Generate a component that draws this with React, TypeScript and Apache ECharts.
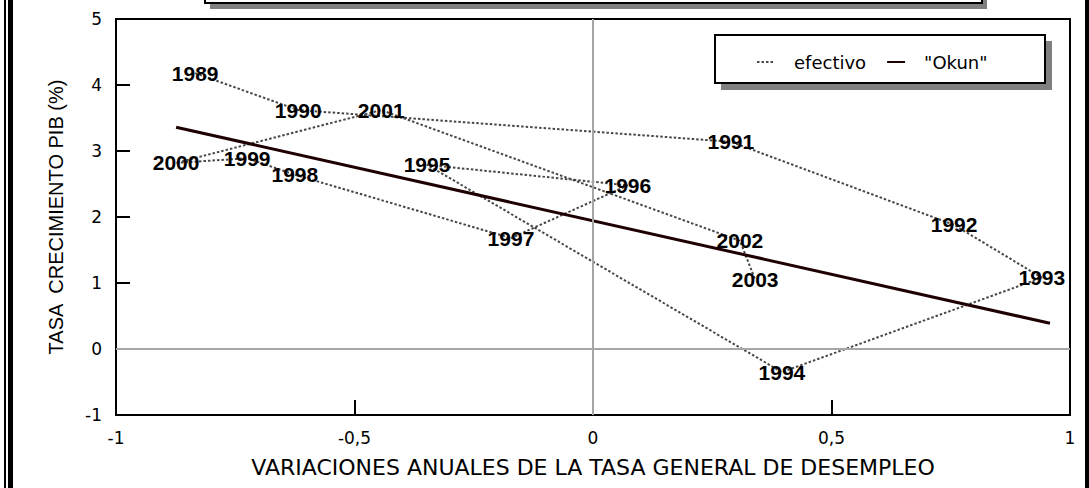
import React, { useEffect, useRef } from "react";
import * as echarts from "echarts";

const years = ["1989", "1990", "1991", "1992", "1993", "1994", "1995", "1996", "1997", "1998", "1999", "2000", "2001", "2002", "2003"];
const unemploymentChange = [-0.834, -0.618, 0.289, 0.757, 0.941, 0.396, -0.348, 0.073, -0.172, -0.625, -0.725, -0.874, -0.444, 0.308, 0.34];
const gdpGrowth = [4.18, 3.62, 3.14, 1.88, 1.08, -0.35, 2.79, 2.48, 1.68, 2.64, 2.89, 2.82, 3.62, 1.64, 1.05];
const okunX = [-0.874, 0.958];
const okunY = [3.36, 0.39];
const xTicks = { min: -1, max: 1, interval: 0.5 };
const yTicks = { min: -1, max: 5, interval: 1 };

const comma = (v: number) => String(v).replace(".", ",");

export default function App() {
  const ref = useRef<HTMLDivElement>(null);
  useEffect(() => {
    document.body.style.margin = "0";
    const chart = echarts.init(ref.current!, undefined, { renderer: "svg" });
    const tickFont = { fontFamily: "DejaVu Sans", fontSize: 17, color: "#000" };
    chart.setOption({
      animation: false,
      backgroundColor: "#fff",
      grid: { left: 116, top: 19, right: 19, bottom: 73, show: true, borderColor: "#000", borderWidth: 2 },
      legend: {
        left: 756,
        top: 53,
        padding: 0,
        z: 10,
        itemWidth: 18,
        itemHeight: 12,
        itemGap: 20,
        itemStyle: { color: "rgba(0,0,0,0)", borderWidth: 0 },
        data: ["efectivo", '"Okun"'],
        textStyle: { fontFamily: "DejaVu Sans", fontSize: 18, color: "#000", padding: [0, 0, 0, 14] },
      },
      xAxis: {
        type: "value",
        ...xTicks,
        axisLine: { onZero: false, lineStyle: { color: "#000", width: 2 } },
        axisTick: { inside: true, length: 15, lineStyle: { color: "#000", width: 2 } },
        axisLabel: { ...tickFont, margin: 14, formatter: comma },
        splitLine: { show: false },
        name: "VARIACIONES ANUALES DE LA TASA GENERAL DE DESEMPLEO",
        nameLocation: "middle",
        nameGap: 41,
        nameTextStyle: { fontFamily: "DejaVu Sans", fontSize: 22, color: "#000" },
      },
      yAxis: {
        type: "value",
        ...yTicks,
        axisLine: { onZero: false, lineStyle: { color: "#000", width: 2 } },
        axisTick: { inside: true, length: 14, lineStyle: { color: "#000", width: 2 } },
        axisLabel: { ...tickFont, margin: 14, formatter: comma },
        splitLine: { show: false },
        name: "TASA  CRECIMIENTO PIB (%)",
        nameLocation: "middle",
        nameGap: 50,
        nameTextStyle: { fontFamily: "Liberation Sans", fontSize: 20, color: "#000" },
      },
      graphic: [
        { type: "rect", z: 5, shape: { x: 4, y: 0, width: 2, height: 488 }, style: { fill: "#000" } },
        { type: "rect", z: 5, shape: { x: 8, y: 0, width: 5, height: 488 }, style: { fill: "#000" } },
        { type: "rect", z: 5, shape: { x: 1085, y: 0, width: 4, height: 488 }, style: { fill: "#000" } },
        { type: "rect", z: 5, shape: { x: 210, y: -20, width: 777, height: 29 }, style: { fill: "#808080" } },
        { type: "rect", z: 5, shape: { x: 205, y: -20, width: 777, height: 23 }, style: { fill: "#fff", stroke: "#000", lineWidth: 2 } },
        { type: "rect", z: 5, shape: { x: 721, y: 41, width: 331, height: 49 }, style: { fill: "#808080" } },
        { type: "rect", z: 5, shape: { x: 715, y: 35, width: 330, height: 48 }, style: { fill: "#fff", stroke: "#000", lineWidth: 2 } },
      ],
      series: [
        {
          name: "efectivo",
          type: "line",
          symbol: "none",
          z: 2,
          lineStyle: { color: "#484848", width: 2, type: [2.5, 2] },
          itemStyle: { color: "#484848" },
          data: unemploymentChange.map((x, i) => [x, gdpGrowth[i]]),
          markLine: {
            silent: true,
            symbol: ["none", "none"],
            label: { show: false },
            lineStyle: { color: "#a6a6a6", width: 2, type: "solid" },
            data: [{ xAxis: 0 }, { yAxis: 0 }],
          },
        },
        {
          name: '"Okun"',
          type: "line",
          symbol: "none",
          z: 3,
          lineStyle: { color: "#1e0000", width: 3 },
          itemStyle: { color: "#1e0000" },
          data: okunX.map((x, i) => [x, okunY[i]]),
        },
        {
          name: "años",
          type: "scatter",
          z: 4,
          symbol: "circle",
          symbolSize: 0,
          itemStyle: { color: "#000", opacity: 1 },
          label: {
            show: true,
            position: "inside",
            formatter: "{b}",
            fontFamily: "Liberation Sans",
            fontWeight: "bold",
            fontSize: 21,
            color: "#000",
            opacity: 1,
            textBorderWidth: 0,
          },
          data: years.map((y, i) => ({ name: y, value: [unemploymentChange[i], gdpGrowth[i]] })),
        },
      ],
    });
    return () => chart.dispose();
  }, []);
  return <div ref={ref} style={{ width: 1089, height: 488 }} />;
}
